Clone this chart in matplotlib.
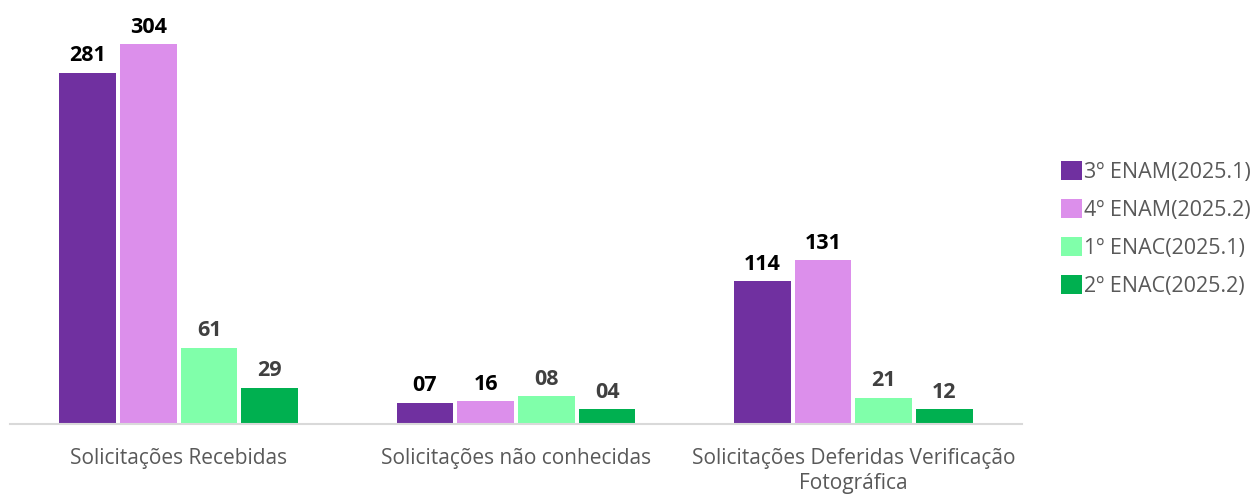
import matplotlib
matplotlib.use("Agg")
import numpy as np
from matplotlib import pyplot as plt
from matplotlib.patches import Patch

plt.rcParams['font.family'] = ['Open Sans', 'DejaVu Sans']

categories = ['Solicitações Recebidas', 'Solicitações não conhecidas',
              'Solicitações Deferidas Verificação\nFotográfica']
series = ['3º ENAM(2025.1)', '4º ENAM(2025.2)', '1º ENAC(2025.1)', '2º ENAC(2025.2)']
colors = ['#7030A0', '#DC8FEB', '#80FFAA', '#00B050']
label_colors = ['#000000', '#000000', '#404040', '#404040']

# bar heights as drawn in the picture
heights = [
    [281, 17, 114],
    [304, 18, 131],
    [61, 22, 21],
    [29, 12, 12],
]
# labels as printed above the bars
labels = [
    ['281', '07', '114'],
    ['304', '16', '131'],
    ['61', '08', '21'],
    ['29', '04', '12'],
]

fig = plt.figure(figsize=(12.57, 4.95), dpi=100)
ax = fig.add_axes([10 / 1257, 71 / 495, 1012 / 1257, 424 / 495])

x = np.arange(len(categories))
pitch = 0.18
width = 0.168
for i in range(len(series)):
    xs = x + (i - 1.5) * pitch
    ax.bar(xs, heights[i], width, color=colors[i], zorder=2)
    for xx, h, lab in zip(xs, heights[i], labels[i]):
        ax.text(xx, h + 5, lab, ha='center', va='bottom', fontsize=15.5,
                fontweight='bold', color=label_colors[i])

ax.set_xlim(-0.5, 2.5)
ax.set_ylim(0, 339)
for s in ['top', 'right', 'left']:
    ax.spines[s].set_visible(False)
ax.spines['bottom'].set_color('#d9d9d9')
ax.spines['bottom'].set_linewidth(1.5)
ax.set_yticks([])
ax.set_xticks(x)
ax.set_xticklabels(categories, fontsize=15, color='#595959', linespacing=1.25)
ax.tick_params(axis='x', length=0, pad=17)

handles = [Patch(facecolor=c, edgecolor='none') for c in colors]
fig.legend(handles, series, loc='upper left', bbox_to_anchor=(1052 / 1257, 1 - 152 / 495),
           frameon=False, fontsize=15.5, labelcolor='#595959', handlelength=1.0,
           handleheight=1.0, handletextpad=0.1, labelspacing=0.75, borderaxespad=0)

fig.savefig('out.png', dpi=100)
